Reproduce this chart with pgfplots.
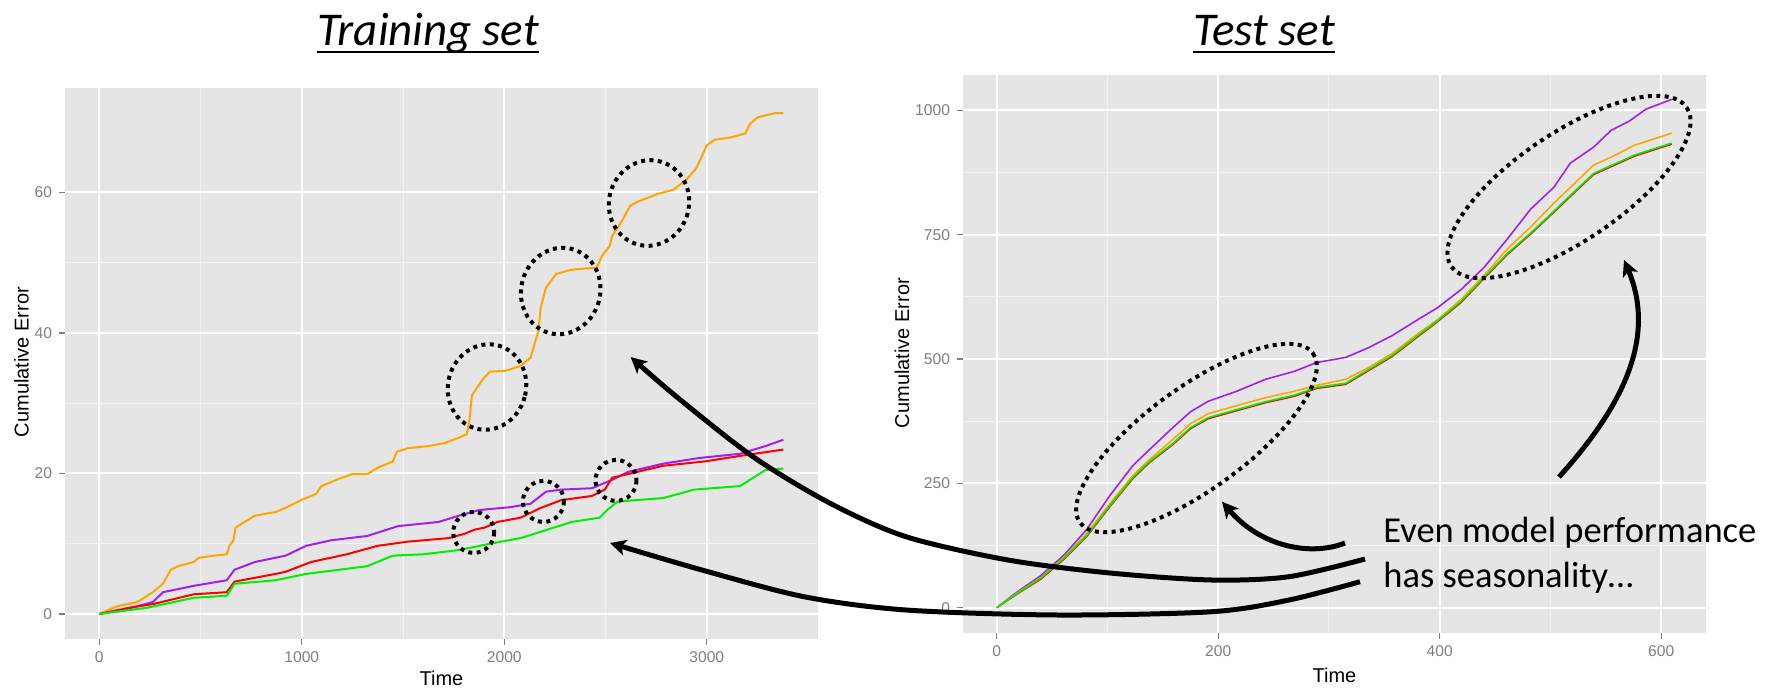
\documentclass[border=0pt]{standalone}
\usepackage{pgfplots}
\usepackage{pgfplotstable}
\pgfplotsset{compat=1.18}
\usepackage{fontspec}
\setmainfont{Liberation Sans}
\newfontfamily\calibri{Carlito}
\usetikzlibrary{arrows.meta,calc}
\definecolor{ggbg}{HTML}{E5E5E5}
\definecolor{ggminor}{HTML}{F2F2F2}
\definecolor{ggtick}{HTML}{7F7F7F}
\definecolor{cOrange}{HTML}{FFA500}
\definecolor{cPurple}{HTML}{A020F0}
\definecolor{cRed}{HTML}{FF0000}
\definecolor{cGreen}{HTML}{00EE00}

\pgfplotsset{gg/.style={
  scale only axis,
  axis background/.style={fill=ggbg},
  axis line style={draw=none},
  grid=both,
  major grid style={draw=white, line width=1pt},
  minor grid style={draw=ggminor, line width=0.5pt},
  minor tick num=1,
  tick align=outside,
  tick pos=left,
  major tick length=3pt,
  minor tick length=0pt,
  major tick style={draw=ggtick, line width=0.6pt},
  tick label style={font=\fontsize{7.8}{9}\selectfont, text=ggtick},
  /pgf/number format/assume math mode=true,
  /pgf/number format/1000 sep={},
  every axis plot/.append style={line width=1pt, mark=none},
}}

% ---------- Training set ----------
\pgfplotstableread{
x y
0 0
88 1.1
189 1.7
265 3.1
315 4.3
353 6.3
390 6.8
466 7.4
492 8.0
567 8.3
630 8.5
643 9.7
663 10.5
673 12.3
718 13.1
769 14.0
870 14.5
920 15.1
996 16.2
1071 17.1
1097 18.2
1172 19.1
1248 19.9
1323 19.9
1374 20.8
1449 21.7
1470 23.1
1525 23.6
1626 23.9
1702 24.3
1777 25.1
1815 25.6
1828 27.6
1840 31.1
1891 33.3
1929 34.5
2004 34.6
2080 35.3
2130 36.5
2155 39.0
2168 40.2
2180 43.6
2205 46.4
2256 48.4
2331 49.0
2457 49.3
2483 51.0
2521 52.4
2533 53.8
2584 56.1
2621 58.1
2659 58.7
2760 59.8
2836 60.4
2899 61.8
2949 63.5
3000 66.7
3038 67.5
3114 67.8
3190 68.4
3214 69.8
3252 70.7
3340 71.3
3378 71.3
}\trOrange

\pgfplotstableread{
x y
0 0
150 0.8
265 1.7
315 3.1
466 4.0
630 4.8
668 6.3
769 7.4
920 8.3
1021 9.7
1147 10.5
1323 11.1
1475 12.5
1676 13.1
1777 14.0
1878 14.8
2029 15.2
2130 15.7
2206 17.4
2281 17.7
2433 17.9
2533 19.1
2609 20.2
2785 21.4
2962 22.2
3164 22.8
3290 23.9
3378 24.8
}\trPurple

\pgfplotstableread{
x y
0 0
150 0.9
265 1.4
466 2.8
630 3.1
668 4.6
870 5.7
920 6.0
1046 7.4
1223 8.5
1374 9.7
1525 10.3
1727 10.8
1802 11.4
1853 12.0
1903 12.3
1966 13.1
2080 13.7
2180 15.1
2281 16.2
2433 16.8
2496 17.7
2533 19.4
2609 19.9
2785 21.1
2987 21.7
3164 22.5
3378 23.4
}\trRed

\pgfplotstableread{
x y
0 0
240 0.9
466 2.3
630 2.6
668 4.3
870 4.8
1021 5.7
1323 6.8
1449 8.3
1600 8.5
1777 9.1
1929 10.0
2080 10.8
2180 11.7
2332 13.1
2470 13.7
2508 14.8
2559 16.0
2785 16.5
2937 17.7
3164 18.2
3290 20.5
3378 20.7
}\trGreen

% ---------- Test set ----------
\pgfplotstableread{
x y
0 0
18.7 32
39.5 64
60.4 105
81.2 157
102 225
123 286
138 318
159 362
175 394
191 415
216.5 435
242.5 459
268.5 475
289 493
315 503
336 523
357 547
378 576
398.6 604
419.5 640
440 684
461 741
482 801
503 845
518 894
539 926
555 960
571 978
586 1002
609.5 1022
}\tePurple

\pgfplotstableread{
x y
0 0
18.7 30
39.5 60
60.4 101
81.2 149
102 209
123 266
138 298
159 338
175 370
191 390
216.5 406
242.5 422
268.5 435
289 447
315 459
336 483
357 511
378 547
398.6 580
419.5 620
440 668
461 721
482 765
503 813
518 845
539 890
555 906
576 930
609.5 954
}\teOrange

\pgfplotstableread{
x y
0 0
18.7 29
39.5 59
60.4 99
81.2 145
102 205
123 262
138 294
159 330
175 362
191 382
216.5 398
242.5 414
268.5 427
289 443
315 451
336 479
357 507
378 543
398.6 578
419.5 616
440 664
461 712
482 753
503 797
518 829
539 873
555 889
576 910
609.5 934
}\teGreen

\pgfplotstableread{
x y
0 0
18.7 28
39.5 57
60.4 97
81.2 143
102 203
123 260
138 292
159 328
175 360
191 380
216.5 396
242.5 412
268.5 425
289 441
315 449
336 477
357 505
378 541
398.6 576
419.5 614
440 662
461 710
482 751
503 795
518 827
539 871
555 887
576 908
609.5 932
}\teRed

\begin{document}
\begin{tikzpicture}
\path[use as bounding box] (0,0) rectangle (883.5pt,-343.5pt);

\begin{axis}[gg,
  at={(32.5pt,-44pt)}, anchor=north west,
  width=376.5pt, height=275.5pt,
  xmin=-169, xmax=3549, ymin=-3.565, ymax=74.865,
  xtick={0,1000,2000,3000}, ytick={0,20,40,60},
]
\addplot[cOrange] table {\trOrange};
\addplot[cPurple] table {\trPurple};
\addplot[cRed] table {\trRed};
\addplot[cGreen] table {\trGreen};
\end{axis}

\begin{axis}[gg,
  at={(481.5pt,-37.5pt)}, anchor=north west,
  width=371.5pt, height=279pt,
  xmin=-30.5, xmax=640.5, ymin=-51, ymax=1071,
  xtick={0,200,400,600}, ytick={0,250,500,750,1000},
  every axis plot/.append style={line width=0.8pt},
]
\addplot[cPurple] table {\tePurple};
\addplot[cRed] table {\teRed};
\addplot[cOrange] table {\teOrange};
\addplot[cGreen] table {\teGreen};
\end{axis}

\begin{scope}[x=0.5pt,y=-0.5pt]
% axis titles
\node[font=\fontsize{10}{12}\selectfont, inner sep=0] at (441.5,678) {Time};
\node[font=\fontsize{10}{12}\selectfont, inner sep=0] at (1334.5,675) {Time};
\node[font=\fontsize{10}{12}\selectfont, inner sep=0, rotate=90] at (21.5,362) {Cumulative Error};
\node[font=\fontsize{10}{12}\selectfont, inner sep=0, rotate=90] at (902,353) {Cumulative Error};

% panel titles
\node[font=\calibri\itshape\fontsize{23.5}{28}\selectfont, inner sep=0, anchor=base] (t1) at (428,45) {Training set};
\draw[line width=1.3pt] ($(t1.base west)+(0,7)$) -- ($(t1.base east)+(0,7)$);
\node[font=\calibri\itshape\fontsize{23.5}{28}\selectfont, inner sep=0, anchor=base] (t2) at (1264,45) {Test set};
\draw[line width=1.3pt] ($(t2.base west)+(0,7)$) -- ($(t2.base east)+(0,7)$);

% annotation text
\node[font=\calibri\fontsize{18.25}{22}\selectfont, inner sep=0, anchor=base west] at (1383,542) {Even model performance};
\node[font=\calibri\fontsize{18.25}{22}\selectfont, inner sep=0, anchor=base west] at (1383,587) {has seasonality…};

% dotted ellipses
\tikzset{dotell/.style={line width=2pt, dash pattern=on 2pt off 2.2pt}}
\draw[dotell, rotate around={-15:(487,387)}] (487,387) ellipse (39 and 43);
\draw[dotell, rotate around={-15:(560.7,291)}] (560.7,291) ellipse (39.5 and 43.5);
\draw[dotell, rotate around={-15:(649,203)}] (649,203) ellipse (40 and 43);
\draw[dotell] (473.7,532.4) ellipse (20.5 and 20.5);
\draw[dotell] (543.4,501.4) ellipse (20.5 and 20.5);
\draw[dotell] (616,480.4) ellipse (20.5 and 20.5);
\draw[dotell, rotate around={36:(1196.5,438)}] (1196.5,438) ellipse (144 and 51);
\draw[dotell, rotate around={34:(1569,187)}] (1569,187) ellipse (142 and 54);

% arrows
\tikzset{arr/.style={line width=2.5pt, -{Stealth[length=8pt,width=8pt,inset=2pt]}}}
\draw[arr] plot[smooth] coordinates {(1365,559) (1289,576.7) (1212,580) (1110,573) (1008,560) (906,536.7) (829.6,503) (753,456.7) (676.5,396.7) (630.6,357)};
\draw[arr] plot[smooth] coordinates {(1360,581.7) (1289,600) (1212,611.7) (1059,615) (906,610) (804,596.7) (702,570) (610,543)};
\draw[arr] (1345,543) .. controls (1312,556) and (1262,548) .. (1222,501.7);
\draw[arr] (1559,477) .. controls (1612,418) and (1660,345) .. (1624,260);
\end{scope}
\end{tikzpicture}
\end{document}
